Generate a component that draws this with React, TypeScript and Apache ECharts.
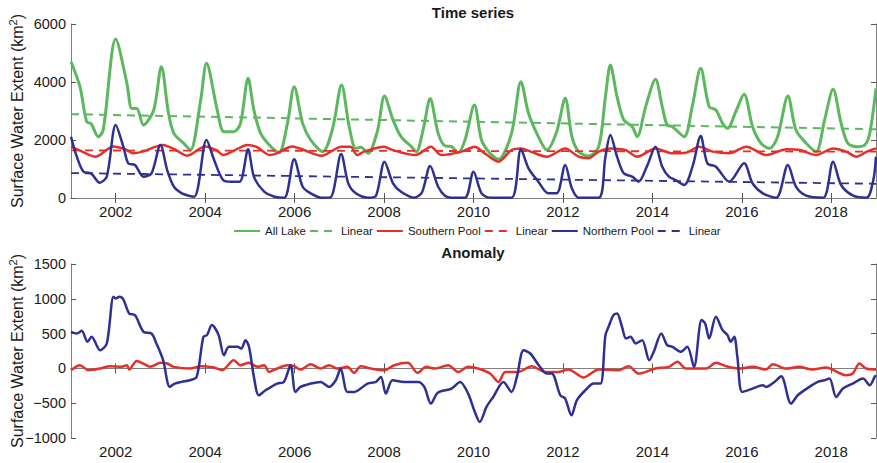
import React, { useEffect, useRef } from "react";
import * as echarts from "echarts";

const yearTicks = [2002, 2004, 2006, 2008, 2010, 2012, 2014, 2016, 2018];

const allLake: [number, number][] = [
  [2001.0, 4700], [2001.2, 3840], [2001.35, 2630], [2001.45, 2560], [2001.61, 2115], [2001.72, 2345],
  [2002.0, 5480], [2002.25, 3955], [2002.36, 3090], [2002.47, 3090], [2002.62, 2517], [2002.85, 3034],
  [2003.02, 4527], [2003.18, 2920], [2003.3, 2230], [2003.52, 1886], [2003.67, 1655], [2003.9, 3380],
  [2004.03, 4644], [2004.27, 3034], [2004.42, 2286], [2004.64, 2286], [2004.79, 2575], [2004.96, 4127],
  [2005.09, 3034], [2005.24, 2230], [2005.47, 1770], [2005.65, 1562], [2005.84, 2575], [2005.99, 3838],
  [2006.18, 2575], [2006.36, 2000], [2006.63, 1597], [2006.85, 2400], [2007.05, 3896], [2007.22, 2459],
  [2007.37, 1713], [2007.48, 1750], [2007.64, 1540], [2007.85, 2300], [2008.01, 3517], [2008.2, 2690],
  [2008.38, 2114], [2008.61, 1770], [2008.72, 1597], [2008.88, 2400], [2009.03, 3430], [2009.21, 2230],
  [2009.36, 1800], [2009.51, 1770], [2009.66, 1562], [2009.81, 2000], [2010.02, 3207], [2010.18, 2000],
  [2010.37, 1540], [2010.56, 1333], [2010.85, 2230], [2011.06, 4010], [2011.23, 2920], [2011.45, 2114],
  [2011.64, 1655], [2011.86, 2287], [2012.05, 3437], [2012.2, 2114], [2012.35, 1597], [2012.57, 1448],
  [2012.8, 1770], [2012.95, 3494], [2013.06, 4586], [2013.21, 3494], [2013.36, 2690], [2013.55, 2459],
  [2013.66, 2114], [2013.85, 3150], [2014.07, 4092], [2014.22, 3149], [2014.33, 2517], [2014.45, 2459],
  [2014.71, 2114], [2014.89, 3150], [2015.08, 4471], [2015.27, 3149], [2015.42, 3034], [2015.57, 2575],
  [2015.68, 2402], [2015.87, 3000], [2016.05, 3575], [2016.24, 2460], [2016.43, 1885], [2016.62, 1713],
  [2016.8, 2114], [2017.03, 3517], [2017.21, 2345], [2017.44, 1886], [2017.66, 1597], [2017.85, 2690],
  [2018.04, 3748], [2018.22, 2575], [2018.37, 1886], [2018.56, 1770], [2018.75, 1828], [2018.86, 2230],
  [2019.0, 3782],
];

const allLakeLinear: [number, number][] = [[2001.0, 2890], [2019.0, 2370]];

const southernPool: [number, number][] = [
  [2001.0, 1770], [2001.25, 1600], [2001.55, 1425], [2001.95, 1780], [2002.2, 1690], [2002.4, 1540],
  [2002.6, 1600], [2002.9, 1770], [2003.05, 1830], [2003.3, 1690], [2003.6, 1460], [2004.0, 1780],
  [2004.25, 1650], [2004.4, 1480], [2004.6, 1600], [2004.95, 1830], [2005.15, 1760], [2005.45, 1480],
  [2005.6, 1540], [2005.95, 1780], [2006.15, 1690], [2006.6, 1460], [2007.05, 1770], [2007.25, 1770],
  [2007.4, 1480], [2007.55, 1600], [2008.0, 1770], [2008.2, 1650], [2008.7, 1480], [2009.05, 1770],
  [2009.28, 1480], [2009.73, 1600], [2010.03, 1770], [2010.2, 1600], [2010.56, 1253], [2010.85, 1655],
  [2011.06, 1710], [2011.28, 1600], [2011.64, 1425], [2012.05, 1710], [2012.35, 1425], [2012.57, 1370],
  [2012.8, 1600], [2013.06, 1710], [2013.4, 1655], [2013.66, 1425], [2014.07, 1710], [2014.45, 1540],
  [2014.75, 1560], [2015.05, 1770], [2015.35, 1600], [2015.72, 1540], [2016.1, 1770], [2016.55, 1480],
  [2017.0, 1680], [2017.3, 1655], [2017.66, 1480], [2018.04, 1710], [2018.33, 1600], [2018.56, 1425],
  [2018.8, 1600], [2019.0, 1710],
];

const southernLinear: [number, number][] = [[2001.0, 1640], [2019.0, 1600]];

const northernPool: [number, number][] = [
  [2001.0, 2114], [2001.13, 1425], [2001.28, 907], [2001.45, 850], [2001.64, 529], [2001.8, 736],
  [2002.0, 2517], [2002.17, 1770], [2002.28, 1195], [2002.43, 1138], [2002.62, 736], [2002.8, 850],
  [2003.0, 1828], [2003.15, 965], [2003.3, 390], [2003.48, 160], [2003.75, 40], [2004.03, 2000],
  [2004.2, 1310], [2004.4, 620], [2004.58, 560], [2004.77, 560], [2004.96, 1678], [2005.09, 736],
  [2005.32, 218], [2005.55, 45], [2005.77, 10], [2005.99, 1333], [2006.18, 390], [2006.36, 160],
  [2006.6, 10], [2006.8, 20], [2007.04, 1517], [2007.2, 505], [2007.37, 160], [2007.64, 10],
  [2007.82, 80], [2008.01, 1253], [2008.2, 505], [2008.38, 218], [2008.68, 10], [2008.85, 200],
  [2009.03, 1100], [2009.21, 390], [2009.36, 80], [2009.51, 10], [2009.81, 10], [2010.0, 907],
  [2010.18, 160], [2010.37, 10], [2010.85, 10], [2011.06, 1678], [2011.23, 1023], [2011.45, 563],
  [2011.67, 160], [2011.86, 160], [2012.05, 1138], [2012.2, 333], [2012.35, 10], [2012.8, 10],
  [2012.95, 1425], [2013.06, 2172], [2013.21, 1425], [2013.36, 850], [2013.55, 736], [2013.69, 563],
  [2013.88, 1100], [2014.07, 1770], [2014.22, 1080], [2014.37, 736], [2014.52, 620], [2014.71, 448],
  [2014.9, 1100], [2015.08, 2138], [2015.23, 1195], [2015.42, 1080], [2015.72, 563], [2016.05, 1195],
  [2016.24, 505], [2016.47, 160], [2016.77, 10], [2017.03, 1138], [2017.21, 390], [2017.44, 80],
  [2017.82, 10], [2018.04, 1253], [2018.22, 448], [2018.49, 80], [2018.79, 10], [2018.94, 620],
  [2019.0, 1425],
];

const northernLinear: [number, number][] = [[2001.0, 860], [2019.0, 490]];

const southernAnomaly: [number, number][] = [
  [2001.0, -26], [2001.2, 46], [2001.39, -26], [2001.65, -2], [2001.87, 32], [2002.13, 22], [2002.25, 46],
  [2002.3, -16], [2002.47, 108], [2002.62, 70], [2002.77, 22], [2003.0, 80], [2003.15, 70], [2003.3, 22],
  [2003.66, -2], [2003.9, 32], [2004.2, 12], [2004.38, -26], [2004.64, 118], [2004.79, 46], [2004.98, 80],
  [2005.17, 22], [2005.32, 46], [2005.43, -50], [2005.61, -2], [2005.84, 46], [2005.99, 32], [2006.13, -16],
  [2006.36, 60], [2006.58, -2], [2006.77, 46], [2006.96, -2], [2007.18, 22], [2007.33, -64], [2007.48, 32],
  [2007.71, -2], [2008.01, -26], [2008.23, 46], [2008.53, 80], [2008.75, -64], [2008.94, 22], [2009.14, -2],
  [2009.43, 46], [2009.66, -50], [2009.88, 22], [2010.1, -2], [2010.37, -74], [2010.56, -194], [2010.71, -50],
  [2011.0, -50], [2011.3, 32], [2011.6, -50], [2011.9, -50], [2012.12, -16], [2012.46, -130], [2012.8, -16],
  [2013.24, -26], [2013.47, 32], [2013.69, -74], [2014.07, -2], [2014.37, 22], [2014.56, 94], [2014.75, -2],
  [2015.2, -2], [2015.42, 80], [2015.65, 32], [2015.95, -2], [2016.24, 22], [2016.54, -16], [2016.69, 60],
  [2016.99, -2], [2017.28, 22], [2017.58, -16], [2017.88, 12], [2018.33, -98], [2018.48, -74], [2018.63, 70],
  [2018.78, -2], [2019.0, -16],
];

const northernAnomaly: [number, number][] = [
  [2001.0, 526], [2001.13, 502], [2001.24, 540], [2001.37, 382], [2001.46, 454], [2001.65, 262],
  [2001.8, 358], [2001.95, 1029], [2002.0, 1005], [2002.08, 1029], [2002.17, 991], [2002.3, 790],
  [2002.43, 766], [2002.62, 526], [2002.8, 502], [2002.91, 358], [2003.06, 118], [2003.21, -266],
  [2003.32, -218], [2003.47, -194], [2003.66, -170], [2003.81, -122], [2003.96, 454], [2004.04, 478],
  [2004.15, 622], [2004.3, 478], [2004.42, 190], [2004.53, 310], [2004.72, 310], [2004.81, 286],
  [2004.9, 406], [2004.98, 310], [2005.09, -122], [2005.2, -386], [2005.35, -314], [2005.61, -218],
  [2005.76, -194], [2005.91, 46], [2006.02, -338], [2006.13, -266], [2006.36, -218], [2006.58, -194],
  [2006.77, -266], [2006.92, -170], [2007.03, -2], [2007.18, -338], [2007.33, -338], [2007.63, -218],
  [2007.82, -194], [2007.93, -122], [2008.04, -362], [2008.19, -170], [2008.45, -194], [2008.76, -194],
  [2008.9, -266], [2009.05, -506], [2009.2, -350], [2009.51, -290], [2009.7, -194], [2009.88, -362],
  [2010.03, -626], [2010.14, -769], [2010.29, -553], [2010.44, -410], [2010.67, -194], [2010.85, -338],
  [2010.97, -122], [2011.12, 262], [2011.27, 214], [2011.46, 46], [2011.64, -74], [2011.75, -74],
  [2011.94, -386], [2012.05, -434], [2012.19, -674], [2012.31, -458], [2012.5, -314], [2012.69, -218],
  [2012.84, -218], [2012.95, 478], [2013.02, 598], [2013.13, 766], [2013.21, 790], [2013.32, 598],
  [2013.41, 430], [2013.51, 454], [2013.63, 358], [2013.77, 406], [2013.93, 118], [2014.03, 238],
  [2014.2, 502], [2014.33, 334], [2014.45, 310], [2014.63, 238], [2014.78, 310], [2014.93, 22],
  [2015.1, 694], [2015.18, 646], [2015.27, 430], [2015.42, 742], [2015.57, 550], [2015.68, 478],
  [2015.75, 382], [2015.83, 454], [2015.9, 166], [2016.01, -338], [2016.24, -290], [2016.47, -242],
  [2016.54, -266], [2016.73, -194], [2016.88, -112], [2017.1, -506], [2017.25, -386], [2017.51, -266],
  [2017.7, -194], [2017.85, -170], [2017.96, -146], [2018.11, -410], [2018.26, -290], [2018.48, -218],
  [2018.71, -146], [2018.86, -242], [2018.97, -122], [2019.0, -98],
];

const GREEN = "#5cb85e";
const RED = "#e5302a";
const BLUE = "#2e3192";
const AXIS = "#808080";
const FONT = "'Liberation Sans', Arial, Helvetica, sans-serif";

const fmt = (v: number) => (v < 0 ? "\u2212" + Math.abs(v) : String(v));

function xAxes(gridIndex: number) {
  return [
    {
      gridIndex,
      type: "value",
      min: 2001,
      max: 2019,
      position: "bottom",
      axisLine: { show: true, lineStyle: { color: AXIS, width: 1 } },
      axisTick: { show: true, inside: true, length: 5, customValues: yearTicks, lineStyle: { color: "#555" } },
      axisLabel: { show: true, customValues: yearTicks, formatter: (v: number) => String(v), fontSize: 15, color: "#1a1a1a", fontFamily: FONT, margin: 6 },
      splitLine: { show: false },
    },
    {
      gridIndex,
      type: "value",
      min: 2001,
      max: 2019,
      position: "top",
      axisLine: { show: true, lineStyle: { color: AXIS, width: 1 } },
      axisTick: { show: true, inside: true, length: 5, customValues: yearTicks, lineStyle: { color: "#555" } },
      axisLabel: { show: false },
      splitLine: { show: false },
    },
  ];
}

function yAxes(gridIndex: number, min: number, max: number, interval: number) {
  return [
    {
      gridIndex,
      type: "value",
      min,
      max,
      interval,
      position: "left",
      name: "Surface Water Extent (km{sup|2})",
      nameLocation: "middle",
      nameGap: 44,
      nameRotate: 90,
      nameMoveOverlap: false,
      nameTextStyle: {
        fontSize: 16,
        color: "#1a1a1a",
        fontFamily: FONT,
        lineHeight: 20,
        rich: { sup: { fontSize: 11, color: "#1a1a1a", fontFamily: FONT, verticalAlign: "top", lineHeight: 20, padding: [0, 0, 6, 0] } },
      },
      axisLine: { show: true, lineStyle: { color: AXIS, width: 1 } },
      axisTick: { show: true, inside: true, length: 5, lineStyle: { color: "#555" } },
      axisLabel: { formatter: fmt, fontSize: 14.5, color: "#1a1a1a", fontFamily: FONT, margin: 5 },
      splitLine: { show: false },
    },
    {
      gridIndex,
      type: "value",
      min,
      max,
      interval,
      position: "right",
      axisLine: { show: true, lineStyle: { color: AXIS, width: 1 } },
      axisTick: { show: true, inside: true, length: 5, lineStyle: { color: "#555" } },
      axisLabel: { show: false },
      splitLine: { show: false },
    },
  ];
}

function line(name: string, data: [number, number][], color: string, width: number, xi: number, yi: number, dashed = false) {
  return {
    name,
    type: "line",
    data,
    xAxisIndex: xi,
    yAxisIndex: yi,
    symbol: "none",
    smooth: dashed ? false : 0.3,
    color,
    lineStyle: { color, width, type: dashed ? [8, 6] : "solid" },
    emphasis: { disabled: true },
    z: 3,
  };
}

export default function App() {
  const ref = useRef<HTMLDivElement>(null);
  useEffect(() => {
    if (!ref.current) return;
    const chart = echarts.init(ref.current, null, { renderer: "svg" });
    chart.setOption({
      animation: false,
      backgroundColor: "#ffffff",
      textStyle: { fontFamily: FONT },
      grid: [
        { left: 71, top: 24, width: 805, height: 174, outerBoundsMode: "none", containLabel: false },
        { left: 71, top: 264, width: 805, height: 174, outerBoundsMode: "none", containLabel: false },
      ],
      graphic: [
        { type: "text", x: 473, y: 12, style: { text: "Time series", textAlign: "center", textVerticalAlign: "middle", font: `bold 15px ${FONT}`, fill: "#1a1a1a" } },
        { type: "text", x: 473, y: 252, style: { text: "Anomaly", textAlign: "center", textVerticalAlign: "middle", font: `bold 15px ${FONT}`, fill: "#1a1a1a" } },
      ],
      legend: {
        left: 233,
        top: 225,
        padding: 0,
        itemWidth: 26,
        itemHeight: 10,
        itemGap: 3,
        itemStyle: { opacity: 0 },
        textStyle: { fontSize: 11.5, color: "#1a1a1a", fontFamily: FONT },
        formatter: (n: string) => (n.startsWith("Linear") ? "Linear" : n),
        data: ["All Lake", "Linear (All Lake)", "Southern Pool", "Linear (Southern Pool)", "Northern Pool", "Linear (Northern Pool)"],
        selectedMode: false,
      },
      xAxis: [...xAxes(0), ...xAxes(1)],
      yAxis: [...yAxes(0, 0, 6000, 2000), ...yAxes(1, -1000, 1500, 500)],
      series: [
        line("All Lake", allLake, GREEN, 3, 0, 0),
        line("Linear (All Lake)", allLakeLinear, GREEN, 2, 0, 0, true),
        line("Southern Pool", southernPool, RED, 2.5, 0, 0),
        line("Linear (Southern Pool)", southernLinear, RED, 1.8, 0, 0, true),
        line("Northern Pool", northernPool, BLUE, 2.5, 0, 0),
        line("Linear (Northern Pool)", northernLinear, BLUE, 1.8, 0, 0, true),
        line("Southern Pool anomaly", southernAnomaly, RED, 2.5, 2, 2),
        line("Northern Pool anomaly", northernAnomaly, BLUE, 2.5, 2, 2),
      ],
    });
    return () => chart.dispose();
  }, []);
  return <div ref={ref} style={{ width: 877, height: 463, position: "absolute", left: 0, top: 0 }} />;
}
